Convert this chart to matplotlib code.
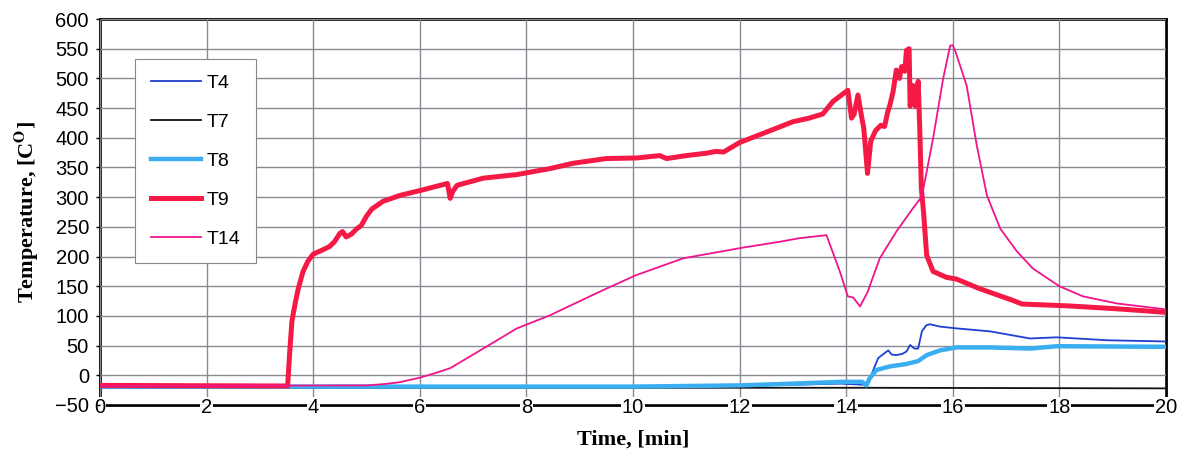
import matplotlib
matplotlib.use("Agg")
import matplotlib.pyplot as plt

# ---- data: time [min] and temperature [C] for each thermocouple ----
t4_time = [0, 12, 13.9, 14.35, 14.4, 14.5, 14.6, 14.7, 14.79, 14.85, 14.94, 15.05, 15.13,
           15.2, 15.28, 15.35, 15.42, 15.5, 15.57, 15.76, 16.07, 16.7, 17.45, 17.95, 18.9, 20]
t4_temp = [-20, -18, -14, -16, -17, 7, 29, 36, 42, 35, 34, 36, 40,
           51, 45, 45, 74, 84, 86, 82, 79, 74, 62, 64, 59, 57]

t7_time = [0, 14.4, 20]
t7_temp = [-21, -21, -22]

t8_time = [0, 10, 12, 13, 13.9, 14.3, 14.38, 14.44, 14.57, 14.82, 15.13, 15.35, 15.51,
           15.76, 16.07, 16.7, 17.45, 17.95, 20]
t8_temp = [-19, -19, -17, -14, -11, -11, -17, -5, 9, 15, 19, 24, 34,
           42, 47, 47, 45, 49, 48]

t9_time = [0, 3.52, 3.56, 3.6, 3.62, 3.67, 3.72, 3.81, 3.9, 4.0, 4.15, 4.31, 4.4, 4.5,
           4.55, 4.62, 4.72, 4.82, 4.9, 5.0, 5.1, 5.31, 5.63, 6.0, 6.3, 6.52, 6.57, 6.62,
           6.7, 7.19, 7.82, 8.25, 8.44, 8.87, 9.5, 10.07, 10.5, 10.63, 11.0, 11.38, 11.55,
           11.7, 12.0, 12.63, 13.0, 13.3, 13.56, 13.65, 13.75, 14.03, 14.1, 14.15, 14.22,
           14.28, 14.33, 14.4, 14.46, 14.55, 14.65, 14.72, 14.78, 14.82, 14.88, 14.94, 15.0,
           15.04, 15.1, 15.13, 15.18, 15.2, 15.25, 15.3, 15.35, 15.38, 15.41, 15.45, 15.51,
           15.63, 15.88, 16.07, 16.5, 17.13, 17.3, 18.14, 19.08, 20]
t9_temp = [-17, -18, 40, 90, 101, 125, 146, 175, 192, 204, 210, 217, 225, 239,
           242, 233, 238, 247, 252, 268, 280, 293, 303, 311, 318, 323, 298, 310,
           320, 332, 338, 345, 348, 357, 365, 366, 370, 365, 370, 374, 377,
           376, 392, 414, 427, 433, 440, 450, 461, 480, 433, 440, 472,
           440, 416, 340, 394, 412, 421, 419, 444, 455, 478, 514, 500,
           520, 512, 547, 550, 453, 488, 453, 495, 416, 315, 276, 202,
           175, 165, 162, 146, 126, 120, 117, 112, 106]

t14_time = [0, 5.0, 5.3, 5.6, 6.0, 6.3, 6.57, 7.19, 7.82, 8.44, 9.38, 10.04, 10.94, 12.06,
            12.76, 13.13, 13.63, 13.88, 14.03, 14.13, 14.26, 14.4, 14.63, 14.94, 15.25, 15.42,
            15.63, 15.82, 15.95, 16.0, 16.05, 16.26, 16.45, 16.64, 16.89, 17.2, 17.5, 18.0,
            18.44, 19.08, 20]
t14_temp = [-18, -17, -15, -12, -4, 4, 12, 45, 79, 101, 141, 168, 197, 215,
            225, 231, 236, 175, 133, 131, 116, 140, 197, 242, 281, 301,
            399, 500, 555, 556, 545, 488, 387, 303, 247, 209, 180, 150,
            133, 121, 111]

x_ticks = [0, 2, 4, 6, 8, 10, 12, 14, 16, 18, 20]
y_ticks = [-50, 0, 50, 100, 150, 200, 250, 300, 350, 400, 450, 500, 550, 600]

plt.rcParams["mathtext.fontset"] = "stix"

fig = plt.figure(figsize=(11.86, 4.5), dpi=100)
ax = fig.add_axes([100 / 1186, 1 - 405 / 450, 1066 / 1186, 386 / 450])

series = [
    ("T4", t4_time, t4_temp, "#1f3fcf", 1.3),
    ("T7", t7_time, t7_temp, "#111111", 1.3),
    ("T8", t8_time, t8_temp, "#3aaef0", 3.2),
    ("T9", t9_time, t9_temp, "#f51a45", 3.6),
    ("T14", t14_time, t14_temp, "#f0148c", 1.3),
]
for i, (name, tx, ty, color, lw) in enumerate(series):
    ax.plot(tx, ty, color=color, lw=lw, label=name, zorder=4 + i,
            solid_joinstyle="round")

ax.set_xlim(0, 20)
ax.set_ylim(-50, 600)
ax.set_xticks(x_ticks)
ax.set_yticks(y_ticks)
ax.grid(True, color="#8a8a94", lw=1.0)
ax.xaxis.set_zorder(3)
ax.yaxis.set_zorder(3)

for sp in ax.spines.values():
    sp.set_linewidth(2.0)
    sp.set_color("black")
    sp.set_zorder(2.5)

ax.tick_params(axis="y", length=3, width=1, pad=5, labelsize=14.5)
ax.tick_params(axis="x", length=0, pad=-5.2, labelsize=14.5)
for lbl in ax.get_yticklabels():
    lbl.set_fontfamily("Liberation Sans")
for lbl in ax.get_xticklabels():
    lbl.set_fontfamily("Liberation Sans")
    lbl.set_bbox(dict(facecolor="white", edgecolor="none", pad=0.6))

ax.set_xlabel("Time, [min]", fontfamily="Liberation Serif", fontweight="bold",
              fontsize=16, labelpad=9)
ax.set_ylabel(r"Temperature, [C$^{\mathbf{O}}$]", fontfamily="Liberation Serif",
              fontweight="bold", fontsize=16, labelpad=10)

leg = ax.legend(loc="upper left", bbox_to_anchor=(0.033, 0.897), fancybox=False,
                edgecolor="#888888", framealpha=1, prop=dict(family="Liberation Sans", size=14),
                handlelength=2.6, handletextpad=0.3, labelspacing=1.1, borderpad=0.8,
                borderaxespad=0)
leg.get_frame().set_linewidth(0.8)
leg.set_zorder(20)

fig.savefig("out.png", dpi=100)
